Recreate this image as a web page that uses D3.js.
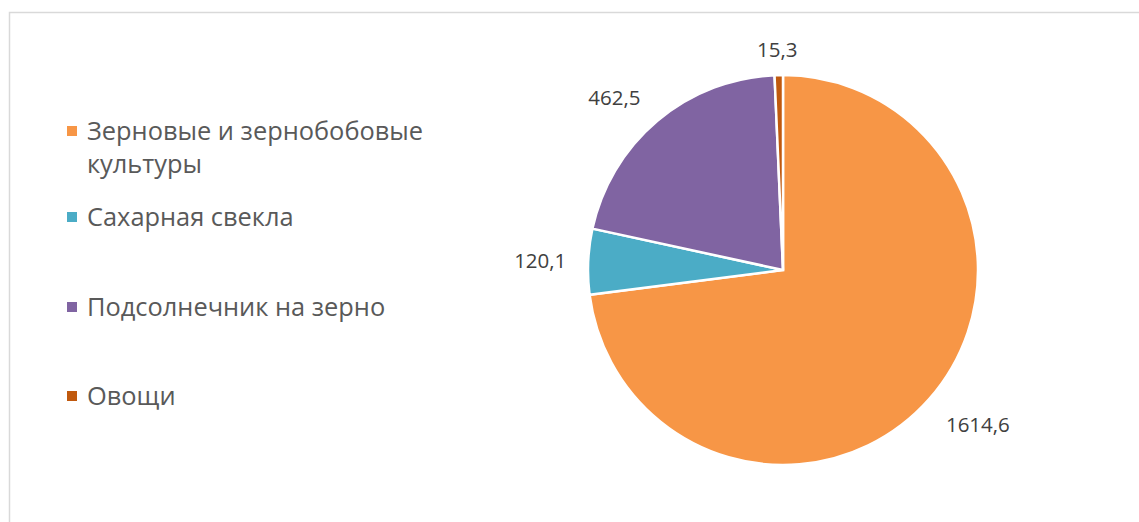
<!DOCTYPE html>
<html>
<head>
<meta charset="utf-8">
<script src="https://cdn.jsdelivr.net/npm/d3@7"></script>
<style>
  body { margin: 0; background: #fff; }
  svg { display: block; }
</style>
</head>
<body>
<div id="chart"></div>
<script>
// data
var categories = ["Зерновые и зернобобовые культуры", "Сахарная свекла", "Подсолнечник на зерно", "Овощи"];
var values = [1614.6, 120.1, 462.5, 15.3];
var valueLabels = ["1614,6", "120,1", "462,5", "15,3"];
var colors = ["#f79646", "#4bacc6", "#8064a2", "#c0590e"];
// legend lines (first category wraps)
var legendLines = [["Зерновые и зернобобовые", "культуры"], ["Сахарная свекла"], ["Подсолнечник на зерно"], ["Овощи"]];

var width = 1139, height = 522;
var cx = 783, cy = 270, r = 195;

var svg = d3.select("#chart").append("svg")
    .attr("width", width)
    .attr("height", height);

// chart frame (only top and left visible)
svg.append("path")
    .attr("d", "M9.5," + height + "V12.5H" + width)
    .attr("fill", "none")
    .attr("stroke", "#d9d9d9")
    .attr("stroke-width", 1.5);

var pie = d3.pie().sort(null).value(function(d) { return d; });
var arcs = pie(values);
var arc = d3.arc().innerRadius(0).outerRadius(r);

var g = svg.append("g").attr("transform", "translate(" + cx + "," + cy + ")");

g.selectAll("path")
    .data(arcs)
    .enter().append("path")
    .attr("d", arc)
    .attr("fill", function(d, i) { return colors[i]; })
    .attr("stroke", "#fff")
    .attr("stroke-width", 2.5)
    .attr("stroke-linejoin", "miter");

// data labels, placed outside the slices
var labelOffsets = [38, 40, 34, 26];
var labelNudge = [[20, 0], [-8, 0], [-21, 2], [-1, 0]];
g.selectAll("text.val")
    .data(arcs)
    .enter().append("text")
    .attr("class", "val")
    .attr("x", function(d, i) {
        var a = (d.startAngle + d.endAngle) / 2;
        return Math.sin(a) * (r + labelOffsets[i]) + labelNudge[i][0];
    })
    .attr("y", function(d, i) {
        var a = (d.startAngle + d.endAngle) / 2;
        return -Math.cos(a) * (r + labelOffsets[i]) + labelNudge[i][1];
    })
    .attr("text-anchor", "middle")
    .attr("dominant-baseline", "central")
    .attr("font-family", "'Open Sans', sans-serif")
    .attr("font-size", 20.5)
    .attr("fill", "#404040")
    .text(function(d, i) { return valueLabels[i]; });

// legend
var legendY = [130, 216, 306, 395];
var legend = svg.append("g");
var items = legend.selectAll("g")
    .data(categories)
    .enter().append("g")
    .attr("transform", function(d, i) { return "translate(67," + legendY[i] + ")"; });

items.append("rect")
    .attr("x", 0).attr("y", -4)
    .attr("width", 10).attr("height", 10)
    .attr("fill", function(d, i) { return colors[i]; });

items.append("text")
    .attr("font-family", "'Open Sans', sans-serif")
    .attr("font-size", 25.4)
    .attr("fill", "#595959")
    .each(function(d, i) {
        var t = d3.select(this);
        legendLines[i].forEach(function(line, j) {
            t.append("tspan")
                .attr("x", 20)
                .attr("y", j * 33)
                .attr("dominant-baseline", "central")
                .text(line);
        });
    });
</script>
</body>
</html>
